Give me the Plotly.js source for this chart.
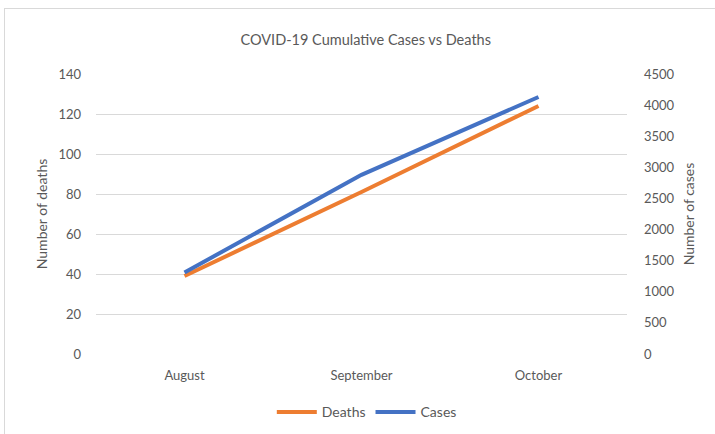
<!DOCTYPE html>
<html>
<head>
<meta charset="utf-8">
<script src="https://cdn.plot.ly/plotly-3.0.1.min.js"></script>
<style>
html,body{margin:0;padding:0;background:#fff;}
#wrap{position:relative;width:715px;height:434px;}
#chart{width:715px;height:434px;}
#frame{position:absolute;left:4px;top:8px;width:711px;height:426px;border-left:1.5px solid #d9d9d9;border-top:1.5px solid #d9d9d9;pointer-events:none;box-sizing:border-box;}
</style>
</head>
<body>
<div id="wrap"><div id="chart"></div><div id="frame"></div></div>
<script>
const months = ["August", "September", "October"];
const deaths = [39, 81, 124];
const cases = [1310, 2880, 4130];
const deathTicks = [0, 20, 40, 60, 80, 100, 120, 140];
const caseTicks = [0, 500, 1000, 1500, 2000, 2500, 3000, 3500, 4000, 4500];

const FONT = "Lato, 'Open Sans', 'DejaVu Sans', sans-serif";
const TXT = "#595959";

const traces = [
  {x: months, y: deaths, name: "Deaths", type: "scatter", mode: "lines",
   line: {color: "#ED7D31", width: 4}, yaxis: "y"},
  {x: months, y: cases, name: "Cases", type: "scatter", mode: "lines",
   line: {color: "#4472C4", width: 4}, yaxis: "y2"}
];

const layout = {
  width: 715, height: 434,
  margin: {l: 96, r: 88, t: 74, b: 80},
  paper_bgcolor: "#fff", plot_bgcolor: "#fff",
  font: {family: FONT, color: TXT, size: 13},
  title: {text: "COVID-19 Cumulative Cases vs Deaths", font: {family: FONT, size: 14.5, color: TXT},
          x: 0.508, xref: "paper", xanchor: "center", y: 0.908, yref: "container", yanchor: "middle"},
  xaxis: {type: "category", range: [-0.5, 2.5], showgrid: false, zeroline: false, showline: false,
          ticks: "", tickfont: {size: 13, color: TXT}, ticklabelstandoff: 12},
  yaxis: {range: [0, 140], tickvals: deathTicks, showgrid: true, gridcolor: "#d9d9d9", gridwidth: 1,
          zeroline: false, showline: false, ticks: "", ticklabelstandoff: 14,
          tickfont: {size: 13, color: TXT},
          title: {text: "Number of deaths", font: {size: 14, color: TXT}, standoff: 7}},
  yaxis2: {range: [0, 4500], tickvals: caseTicks, overlaying: "y", side: "right",
          showgrid: false, zeroline: false, showline: false, ticks: "", ticklabelstandoff: 16,
          tickfont: {size: 13, color: TXT},
          title: {text: "Number of cases", font: {size: 14, color: TXT}, standoff: 10}},
  showlegend: true,
  legend: {orientation: "h", x: 0.51, xref: "paper", xanchor: "center", y: 0.05, yref: "container", yanchor: "middle",
           font: {size: 14, color: TXT}, itemwidth: 40, tracegroupgap: 0},
};

Plotly.newPlot("chart", traces, layout, {displayModeBar: false, staticPlot: true});
</script>
</body>
</html>
